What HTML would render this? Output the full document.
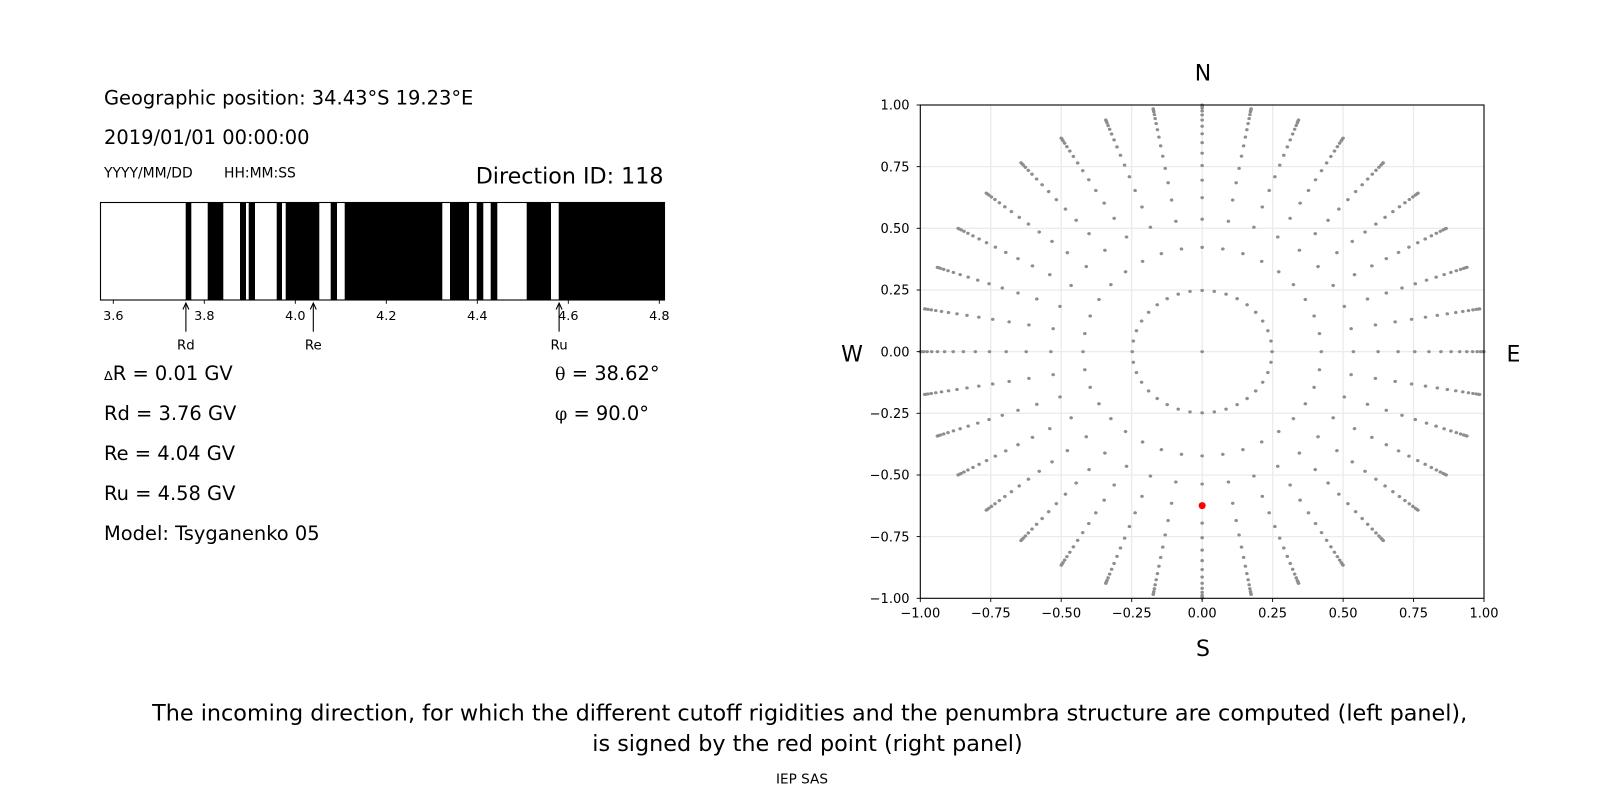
<!DOCTYPE html>
<html>
<head>
<meta charset="utf-8">
<style>
  html, body { margin: 0; padding: 0; background: #ffffff; }
  svg { display: block; }
  text { font-family: "DejaVu Sans", "Liberation Sans", sans-serif; fill: #000; }
</style>
</head>
<body>
<svg width="1600" height="800" viewBox="0 0 1600 800" xmlns="http://www.w3.org/2000/svg">
  <rect x="0" y="0" width="1600" height="800" fill="#ffffff"/>

  <!-- ========== LEFT PANEL TEXT ========== -->
  <text x="104" y="104.5" font-size="19.45">Geographic position: 34.43°S 19.23°E</text>
  <text x="104" y="144" font-size="19.45">2019/01/01 00:00:00</text>
  <text x="104" y="177.3" font-size="13.9">YYYY/MM/DD</text>
  <text x="224" y="177.3" font-size="13.9">HH:MM:SS</text>
  <text x="663.5" y="183.3" font-size="22.2" text-anchor="end">Direction ID: 118</text>

  <!-- ========== PENUMBRA BAR ========== -->
  <rect x="100.5" y="202.5" width="564" height="97.5" fill="#ffffff"/>
  <g fill="#000">
    <rect x="185.7" y="202.5" width="5.6" height="97.5"/>
    <rect x="207.7" y="202.5" width="15.6" height="97.5"/>
    <rect x="240" y="202.5" width="6" height="97.5"/>
    <rect x="248.7" y="202.5" width="6.3" height="97.5"/>
    <rect x="276.7" y="202.5" width="5.3" height="97.5"/>
    <rect x="285.7" y="202.5" width="33.6" height="97.5"/>
    <rect x="330.7" y="202.5" width="6.3" height="97.5"/>
    <rect x="344.7" y="202.5" width="97.6" height="97.5"/>
    <rect x="450" y="202.5" width="19" height="97.5"/>
    <rect x="476.7" y="202.5" width="6.6" height="97.5"/>
    <rect x="490.7" y="202.5" width="6.6" height="97.5"/>
    <rect x="526.7" y="202.5" width="24.3" height="97.5"/>
    <rect x="558.7" y="202.5" width="106.3" height="97.5"/>
  </g>
  <rect x="100.5" y="202.5" width="564" height="97.5" fill="none" stroke="#000" stroke-width="1.1"/>

  <!-- bar ticks -->
  <g stroke="#000" stroke-width="0.9">
    <line x1="113.3" y1="300" x2="113.3" y2="303.8"/>
    <line x1="204.3" y1="300" x2="204.3" y2="303.8"/>
    <line x1="295.3" y1="300" x2="295.3" y2="303.8"/>
    <line x1="386.3" y1="300" x2="386.3" y2="303.8"/>
    <line x1="477.3" y1="300" x2="477.3" y2="303.8"/>
    <line x1="568.3" y1="300" x2="568.3" y2="303.8"/>
    <line x1="659.3" y1="300" x2="659.3" y2="303.8"/>
  </g>
  <g font-size="12.8" text-anchor="middle">
    <text x="113.3" y="320">3.6</text>
    <text x="204.3" y="320">3.8</text>
    <text x="295.3" y="320">4.0</text>
    <text x="386.3" y="320">4.2</text>
    <text x="477.3" y="320">4.4</text>
    <text x="568.3" y="320">4.6</text>
    <text x="659.3" y="320">4.8</text>
  </g>

  <!-- arrows -->
  <g stroke="#000" stroke-width="1.1" fill="none">
    <line x1="185.9" y1="331.7" x2="185.9" y2="303"/>
    <path d="M182.9,309.5 L185.9,303 L188.9,309.5"/>
    <line x1="313.3" y1="331.7" x2="313.3" y2="303"/>
    <path d="M310.3,309.5 L313.3,303 L316.3,309.5"/>
    <line x1="559.1" y1="331.7" x2="559.1" y2="303"/>
    <path d="M556.1,309.5 L559.1,303 L562.1,309.5"/>
  </g>
  <g font-size="13.3" text-anchor="middle">
    <text x="185.9" y="349.5">Rd</text>
    <text x="313.3" y="349.5">Re</text>
    <text x="559.1" y="349.5">Ru</text>
  </g>

  <!-- values -->
  <text x="104" y="380" font-size="19.45"><tspan font-size="12.8">Δ</tspan>R = 0.01 GV</text>
  <text x="104" y="420" font-size="19.45">Rd = 3.76 GV</text>
  <text x="104" y="460" font-size="19.45">Re = 4.04 GV</text>
  <text x="104" y="500" font-size="19.45">Ru = 4.58 GV</text>
  <text x="104" y="540" font-size="19.45">Model: Tsyganenko 05</text>
  <text x="555" y="380" font-size="19.45"><tspan style="font-family:'DejaVu Serif','Liberation Serif',serif" font-size="17.5">θ</tspan> = 38.62°</text>
  <text x="555" y="420" font-size="19.45"><tspan style="font-family:'DejaVu Serif','Liberation Serif',serif" font-size="17.5">φ</tspan> = 90.0°</text>

  <!-- ========== RIGHT PANEL (POLAR) ========== -->
  <!-- grid -->
  <g stroke="#ebebeb" stroke-width="1.3">
    <line x1="990.76" y1="105" x2="990.76" y2="598.3"/>
    <line x1="1061.2" y1="105" x2="1061.2" y2="598.3"/>
    <line x1="1131.7" y1="105" x2="1131.7" y2="598.3"/>
    <line x1="1202.15" y1="105" x2="1202.15" y2="598.3"/>
    <line x1="1272.6" y1="105" x2="1272.6" y2="598.3"/>
    <line x1="1343.1" y1="105" x2="1343.1" y2="598.3"/>
    <line x1="1413.5" y1="105" x2="1413.5" y2="598.3"/>
    <line x1="920.3" y1="166.66" x2="1484" y2="166.66"/>
    <line x1="920.3" y1="228.3" x2="1484" y2="228.3"/>
    <line x1="920.3" y1="290" x2="1484" y2="290"/>
    <line x1="920.3" y1="351.65" x2="1484" y2="351.65"/>
    <line x1="920.3" y1="413.3" x2="1484" y2="413.3"/>
    <line x1="920.3" y1="475" x2="1484" y2="475"/>
    <line x1="920.3" y1="536.6" x2="1484" y2="536.6"/>
  </g>

  <!-- dots -->
  <g transform="translate(1202.15,351.65) scale(281.85,-246.65)" fill="#8e8e8e">
    <circle cx="0" cy="0" r="0.0064"/>
    <g id="sp">
      <circle cx="0" cy="0.24804" r="0.0064"/>
      <circle cx="0" cy="0.42274" r="0.0064"/>
      <circle cx="0" cy="0.53674" r="0.0064"/>
      <circle cx="0" cy="0.62422" r="0.0064"/>
      <circle cx="0" cy="0.69527" r="0.0064"/>
      <circle cx="0" cy="0.75455" r="0.0064"/>
      <circle cx="0" cy="0.80465" r="0.0064"/>
      <circle cx="0" cy="0.84721" r="0.0064"/>
      <circle cx="0" cy="0.88333" r="0.0064"/>
      <circle cx="0" cy="0.91376" r="0.0064"/>
      <circle cx="0" cy="0.93906" r="0.0064"/>
      <circle cx="0" cy="0.95964" r="0.0064"/>
      <circle cx="0" cy="0.97578" r="0.0064"/>
      <circle cx="0" cy="0.98772" r="0.0064"/>
      <circle cx="0" cy="0.99560" r="0.0064"/>
      <circle cx="0" cy="0.99951" r="0.0064"/>
    </g>
    <use href="#sp" transform="rotate(10)"/>
    <use href="#sp" transform="rotate(20)"/>
    <use href="#sp" transform="rotate(30)"/>
    <use href="#sp" transform="rotate(40)"/>
    <use href="#sp" transform="rotate(50)"/>
    <use href="#sp" transform="rotate(60)"/>
    <use href="#sp" transform="rotate(70)"/>
    <use href="#sp" transform="rotate(80)"/>
    <use href="#sp" transform="rotate(90)"/>
    <use href="#sp" transform="rotate(100)"/>
    <use href="#sp" transform="rotate(110)"/>
    <use href="#sp" transform="rotate(120)"/>
    <use href="#sp" transform="rotate(130)"/>
    <use href="#sp" transform="rotate(140)"/>
    <use href="#sp" transform="rotate(150)"/>
    <use href="#sp" transform="rotate(160)"/>
    <use href="#sp" transform="rotate(170)"/>
    <use href="#sp" transform="rotate(180)"/>
    <use href="#sp" transform="rotate(190)"/>
    <use href="#sp" transform="rotate(200)"/>
    <use href="#sp" transform="rotate(210)"/>
    <use href="#sp" transform="rotate(220)"/>
    <use href="#sp" transform="rotate(230)"/>
    <use href="#sp" transform="rotate(240)"/>
    <use href="#sp" transform="rotate(250)"/>
    <use href="#sp" transform="rotate(260)"/>
    <use href="#sp" transform="rotate(270)"/>
    <use href="#sp" transform="rotate(280)"/>
    <use href="#sp" transform="rotate(290)"/>
    <use href="#sp" transform="rotate(300)"/>
    <use href="#sp" transform="rotate(310)"/>
    <use href="#sp" transform="rotate(320)"/>
    <use href="#sp" transform="rotate(330)"/>
    <use href="#sp" transform="rotate(340)"/>
    <use href="#sp" transform="rotate(350)"/>
  </g>

  <!-- red point -->
  <circle cx="1202.15" cy="505.6" r="3.5" fill="#ff0000"/>

  <!-- frame -->
  <rect x="920.3" y="105" width="563.7" height="493.3" fill="none" stroke="#000" stroke-width="1.1"/>

  <!-- ticks -->
  <g stroke="#000" stroke-width="0.9">
    <line x1="920.3" y1="598.3" x2="920.3" y2="602"/>
    <line x1="990.76" y1="598.3" x2="990.76" y2="602"/>
    <line x1="1061.2" y1="598.3" x2="1061.2" y2="602"/>
    <line x1="1131.7" y1="598.3" x2="1131.7" y2="602"/>
    <line x1="1202.15" y1="598.3" x2="1202.15" y2="602"/>
    <line x1="1272.6" y1="598.3" x2="1272.6" y2="602"/>
    <line x1="1343.1" y1="598.3" x2="1343.1" y2="602"/>
    <line x1="1413.5" y1="598.3" x2="1413.5" y2="602"/>
    <line x1="1484" y1="598.3" x2="1484" y2="602"/>
    <line x1="916.6" y1="105" x2="920.3" y2="105"/>
    <line x1="916.6" y1="166.66" x2="920.3" y2="166.66"/>
    <line x1="916.6" y1="228.3" x2="920.3" y2="228.3"/>
    <line x1="916.6" y1="290" x2="920.3" y2="290"/>
    <line x1="916.6" y1="351.65" x2="920.3" y2="351.65"/>
    <line x1="916.6" y1="413.3" x2="920.3" y2="413.3"/>
    <line x1="916.6" y1="475" x2="920.3" y2="475"/>
    <line x1="916.6" y1="536.6" x2="920.3" y2="536.6"/>
    <line x1="916.6" y1="598.3" x2="920.3" y2="598.3"/>
  </g>

  <!-- x tick labels -->
  <g font-size="13" text-anchor="middle">
    <text x="920.3" y="617.5">−1.00</text>
    <text x="990.76" y="617.5">−0.75</text>
    <text x="1061.2" y="617.5">−0.50</text>
    <text x="1131.7" y="617.5">−0.25</text>
    <text x="1202.15" y="617.5">0.00</text>
    <text x="1272.6" y="617.5">0.25</text>
    <text x="1343.1" y="617.5">0.50</text>
    <text x="1413.5" y="617.5">0.75</text>
    <text x="1484" y="617.5">1.00</text>
  </g>
  <!-- y tick labels -->
  <g font-size="13" text-anchor="end">
    <text x="909.5" y="109.7">1.00</text>
    <text x="909.5" y="171.3">0.75</text>
    <text x="909.5" y="233">0.50</text>
    <text x="909.5" y="294.7">0.25</text>
    <text x="909.5" y="356.3">0.00</text>
    <text x="909.5" y="418">−0.25</text>
    <text x="909.5" y="479.7">−0.50</text>
    <text x="909.5" y="541.3">−0.75</text>
    <text x="909.5" y="603">−1.00</text>
  </g>

  <!-- compass labels -->
  <g font-size="22" text-anchor="middle">
    <text x="1203" y="80.5">N</text>
    <text x="1203" y="656">S</text>
    <text x="852" y="361.5">W</text>
    <text x="1513.5" y="361.5">E</text>
  </g>

  <!-- ========== CAPTION ========== -->
  <text x="809.7" y="720.7" font-size="22.3" text-anchor="middle">The incoming direction, for which the different cutoff rigidities and the penumbra structure are computed (left panel),</text>
  <text x="807.5" y="751" font-size="22.3" text-anchor="middle">is signed by the red point (right panel)</text>
  <text x="802" y="783.3" font-size="13.6" text-anchor="middle">IEP SAS</text>
</svg>
</body>
</html>
